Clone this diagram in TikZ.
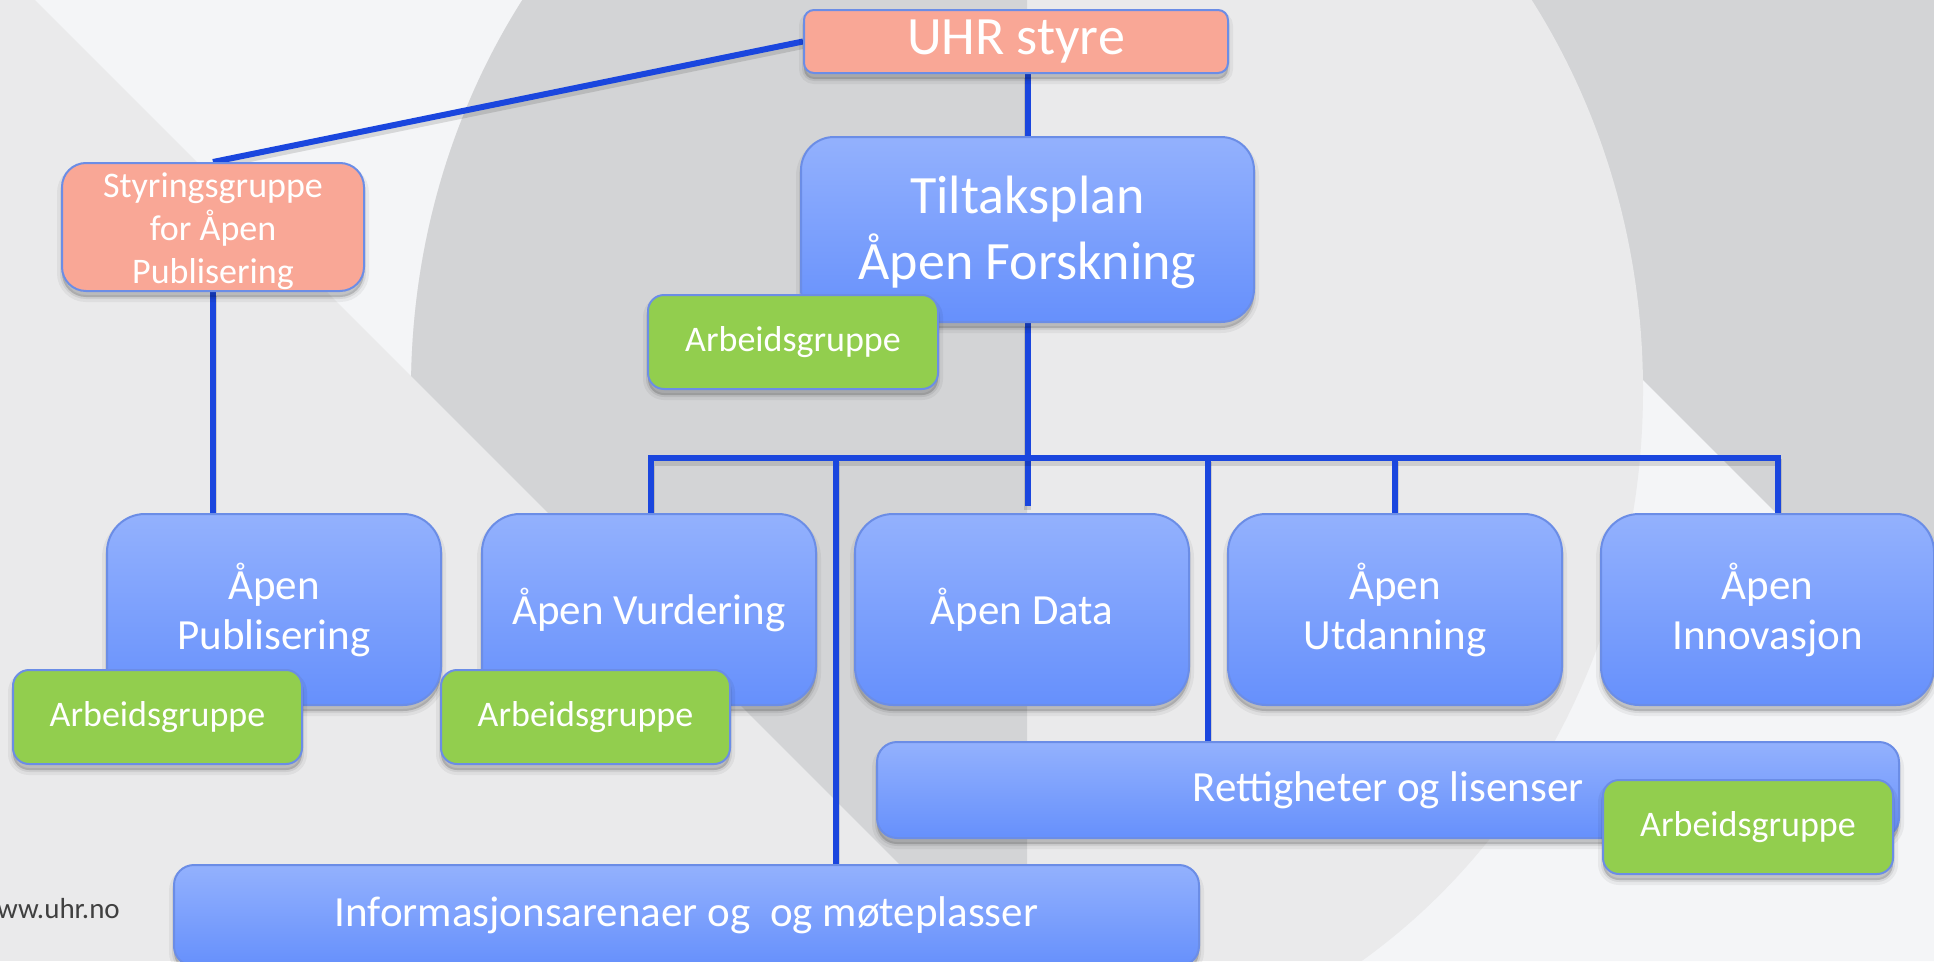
\documentclass[tikz,border=0pt]{standalone}
\usepackage{fontspec}
\setmainfont{Carlito}
\usetikzlibrary{calc}
\definecolor{bgmid}{HTML}{EAEAEB}
\definecolor{bglight}{HTML}{F4F5F7}
\definecolor{bgdark}{HTML}{D3D4D6}
\definecolor{bluetop}{HTML}{93B1FD}
\definecolor{bluebot}{HTML}{6690FC}
\definecolor{edgeblue}{HTML}{6B8DE6}
\definecolor{salmon}{HTML}{F9A796}
\definecolor{leaf}{HTML}{92CE4E}
\definecolor{wirecol}{HTML}{1A46DE}
\definecolor{wwwgrey}{HTML}{404040}
\pgfdeclarelayer{bg}
\pgfdeclarelayer{wires}
\pgfsetlayers{bg,wires,main}
\tikzset{
  softshadow/.style={
    preaction={draw=black, draw opacity=0.05, line width=10pt, fill=none,
      transform canvas={yshift=-6pt}},
    preaction={draw=black, draw opacity=0.07, line width=4pt, fill=none,
      transform canvas={yshift=-6pt}},
    preaction={fill=black, fill opacity=0.16, draw=none,
      transform canvas={yshift=-6pt}}},
  boxbase/.style={softshadow, draw=edgeblue, line width=2pt, inner sep=0pt,
    anchor=north west, align=center, text=white},
  bluebox/.style={boxbase, top color=bluetop, bottom color=bluebot, rounded corners=#1},
  pinkbox/.style={boxbase, fill=salmon, rounded corners=#1},
  greenbox/.style={boxbase, fill=leaf, rounded corners=16pt,
    minimum width=290pt, minimum height=94pt, font=\fontsize{36}{43}\selectfont},
  unitbox/.style={bluebox=38pt, minimum width=334pt, minimum height=191pt,
    font=\fontsize{43}{50}\selectfont},
  barbox/.style={bluebox=20pt, font=\fontsize{43}{50}\selectfont},
  wire/.style={draw=wirecol, line width=6pt, line join=miter,
    preaction={draw=black, draw opacity=0.12, line width=7pt,
      transform canvas={yshift=-4pt}}}
}
\begin{document}
\begin{tikzpicture}[x=1pt, y=-1pt]
\useasboundingbox (0,0) rectangle (1934,961);
\begin{pgfonlayer}{bg}
  \fill[bgmid] (0,0) rectangle (1934,961);
  \fill[bglight] (35,0) -- (1934,0) -- (1934,961) -- (996,961) -- cycle;
  \fill[bgdark] (1263,0) -- (1934,0) -- (1934,671) -- cycle;
  \begin{scope}
    \clip (1027,390) ellipse [x radius=616, y radius=680];
    \fill[bgmid] (0,0) rectangle (1934,961);
    \fill[bgdark] (35,0) -- (1027,0) -- (1027,992) -- cycle;
  \end{scope}
\end{pgfonlayer}

% boxes
\node[pinkbox=10pt, minimum width=424pt, minimum height=63pt,
  font=\fontsize{54}{62}\selectfont] (uhr) at (803,9) {UHR styre};
\node[pinkbox=24pt, minimum width=302pt, minimum height=128pt,
  font=\fontsize{36}{43}\selectfont] (styr) at (61,162) {\rule{0pt}{33pt}Styringsgruppe\\for Åpen\\Publisering};
\node[bluebox=33pt, minimum width=453pt, minimum height=185pt,
  font=\fontsize{54}{66}\selectfont] (tiltak) at (800,136) {\rule{0pt}{44pt}Tiltaksplan\\Åpen Forskning};
\node[greenbox] (agtop) at (647,294) {Arbeidsgruppe};

\node[unitbox] (pub) at (106,513) {Åpen\\Publisering};
\node[greenbox, minimum width=289pt] (agpub) at (12,669) {Arbeidsgruppe};
\node[unitbox] (vurd) at (481,513) {Åpen Vurdering};
\node[greenbox, minimum width=289pt] (agvurd) at (440,669) {Arbeidsgruppe};
\node[unitbox] (data) at (854,513) {Åpen Data};
\node[unitbox] (utd) at (1227,513) {Åpen\\Utdanning};
\node[unitbox, minimum width=333pt] (inno) at (1600,513) {Åpen\\Innovasjon};

\node[barbox, minimum width=1022pt, minimum height=96pt] (rett) at (876,741) {Rettigheter og lisenser};
\node[greenbox] (agrett) at (1602,779) {Arbeidsgruppe};
\node[barbox, minimum width=1025pt, minimum height=101pt] (info) at (173,864) {Informasjonsarenaer og\ \ og møteplasser};

\node[anchor=base east, inner sep=0pt, text=wwwgrey,
  font=\fontsize{29}{33}\selectfont] (www) at (120,918) {www.uhr.no};

% connectors
\coordinate (busL) at (651,458);
\coordinate (busR) at (1778,458);
\coordinate (dropI) at (836,458);
\coordinate (dropR) at (1208,458);
\begin{pgfonlayer}{wires}
  \draw[wire] (uhr.west) -- (styr.north);
  \draw[wire] (uhr.south -| tiltak.north) -- (tiltak.north);
  \draw[wire] (styr.south) -- (styr.south |- pub.north);
  \draw[wire, shorten >=7pt] (tiltak.south) -- (tiltak.south |- data.north);
  \draw[wire] (busL |- vurd.north) -- (busL) -- (busR) -- (busR |- inno.north);
  \draw[wire] (dropI) -- (dropI |- info.north);
  \draw[wire] (dropR) -- (dropR |- rett.north);
  \draw[wire] (utd.north |- busL) -- (utd.north);
\end{pgfonlayer}
\end{tikzpicture}
\end{document}
